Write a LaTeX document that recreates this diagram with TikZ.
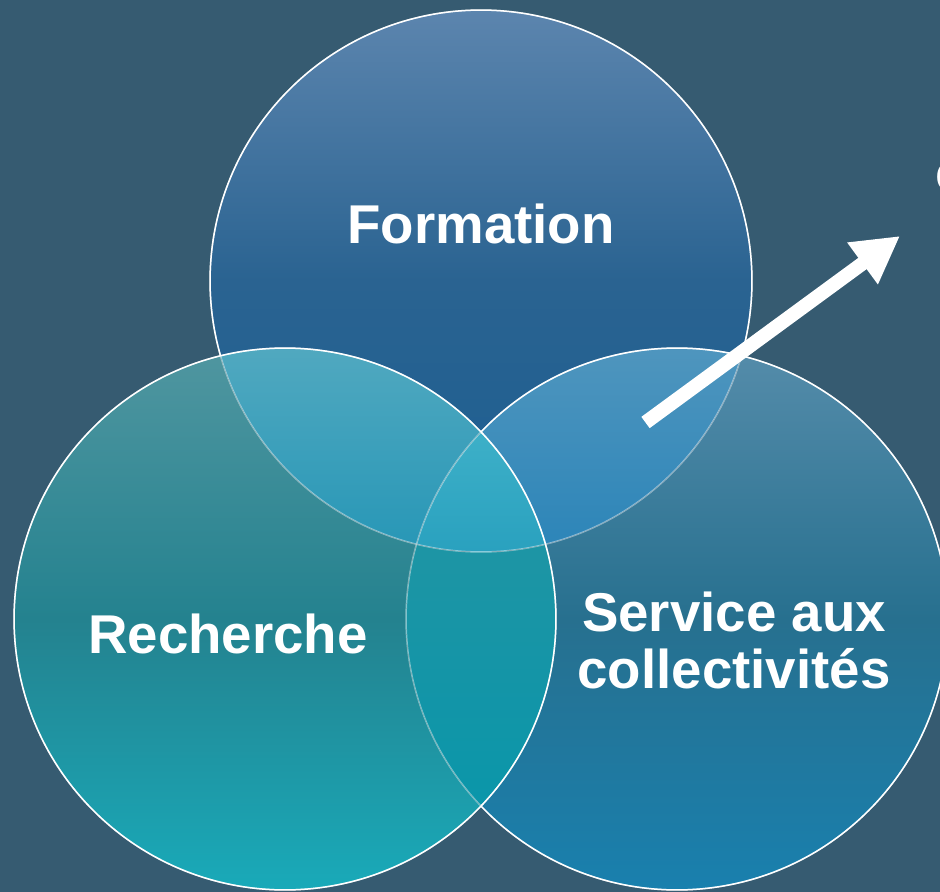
\documentclass[tikz,border=0pt]{standalone}
\usepackage{fontspec}
\setmainfont{Liberation Sans}
\usetikzlibrary{arrows.meta}

\definecolor{bgslate}{RGB}{54,91,113}
\definecolor{formA}{RGB}{92,133,174}
\definecolor{formB}{RGB}{42,99,145}
\definecolor{formC}{RGB}{27,94,146}
\definecolor{rechA}{RGB}{80,150,160}
\definecolor{rechB}{RGB}{36,130,143}
\definecolor{rechC}{RGB}{25,170,185}
\definecolor{servA}{RGB}{85,140,170}
\definecolor{servB}{RGB}{39,112,143}
\definecolor{servC}{RGB}{25,128,174}
\definecolor{frA}{RGB}{82,169,192}
\definecolor{frB}{RGB}{37,150,182}
\definecolor{fsA}{RGB}{80,150,190}
\definecolor{fsB}{RGB}{42,132,184}
\definecolor{rsA}{RGB}{38,148,162}
\definecolor{rsB}{RGB}{10,150,170}
\definecolor{allA}{RGB}{62,176,200}
\definecolor{allB}{RGB}{40,160,190}

\newcommand{\vennr}{5.42cm}

\begin{document}
\begin{tikzpicture}[x=0.02cm, y=-0.02cm,
    venn/.style={circle, minimum size=10.84cm, inner sep=0pt},
    vennlabel/.style={text=white, font=\bfseries\fontsize{31.1}{31.9}\selectfont, align=center, anchor=base, inner sep=0pt},
    rim/.style={draw=white, line width=0.03cm},
    faintrim/.style={draw=white, draw opacity=0.45, line width=0.03cm},
    outside/.style={insert path={(-20,-20) -- (960,-20) -- (960,912) -- (-20,912) -- cycle}}
 ]

\useasboundingbox (0,0) rectangle (940,892);
\fill[bgslate] (0,0) rectangle (940,892);

\node[venn, top color=formA, bottom color=formC, middle color=formB] (Formation) at (481,281) {};
\node[venn, top color=servA, bottom color=servC, middle color=servB] (Service) at (677,619) {};
\node[venn, top color=rechA, bottom color=rechC, middle color=rechB] (Recherche) at (285,619) {};

\begin{scope}
  \clip (Recherche.center) circle[radius=\vennr];
  \clip (Service.center) circle[radius=\vennr];
  \fill[top color=rsA, bottom color=rsB] (400,430) rectangle (565,812);
\end{scope}
\begin{scope}
  \clip (Formation.center) circle[radius=\vennr];
  \clip (Recherche.center) circle[radius=\vennr];
  \fill[top color=frA, bottom color=frB] (205,340) rectangle (565,560);
  \clip (Service.center) circle[radius=\vennr];
  \fill[top color=allA, bottom color=allB] (400,430) rectangle (565,560);
\end{scope}
\begin{scope}
  \clip (Formation.center) circle[radius=\vennr];
  \clip (Service.center) circle[radius=\vennr];
  \begin{scope}[even odd rule]
    \clip[outside] (Recherche.center) circle[radius=\vennr];
    \fill[top color=fsA, bottom color=fsB] (400,340) rectangle (760,560);
  \end{scope}
\end{scope}

\foreach \c in {Formation, Service, Recherche}
  \draw[faintrim] (\c.center) circle[radius=\vennr];
\draw[rim] (Recherche.center) circle[radius=\vennr];
\begin{scope}[even odd rule]
  \clip[outside] (Recherche.center) circle[radius=\vennr];
  \draw[rim] (Service.center) circle[radius=\vennr];
  \begin{scope}[even odd rule]
    \clip[outside] (Service.center) circle[radius=\vennr];
    \draw[rim] (Formation.center) circle[radius=\vennr];
  \end{scope}
\end{scope}

\node[vennlabel] (FormationText) at (481,243) {Formation};
\node[vennlabel] (RechercheText) at (228,653) {Recherche};
\node[vennlabel] (ServiceText) at (734,688) {Service aux\\collectivités};

\coordinate (ArrowTail) at (645.5,422.5);
\coordinate (ArrowTip) at (900,236);
\draw[white, line width=0.28cm, -{Triangle[length=0.93cm, width=0.97cm]}] (ArrowTail) -- (ArrowTip);

\begin{scope}
  \clip (0,0) rectangle (940,892);
  \node[text=white, font=\bfseries\fontsize{31.1}{31.9}\selectfont, anchor=base west, inner sep=0pt] (CutText) at (935,192) {c};
\end{scope}

\end{tikzpicture}
\end{document}
